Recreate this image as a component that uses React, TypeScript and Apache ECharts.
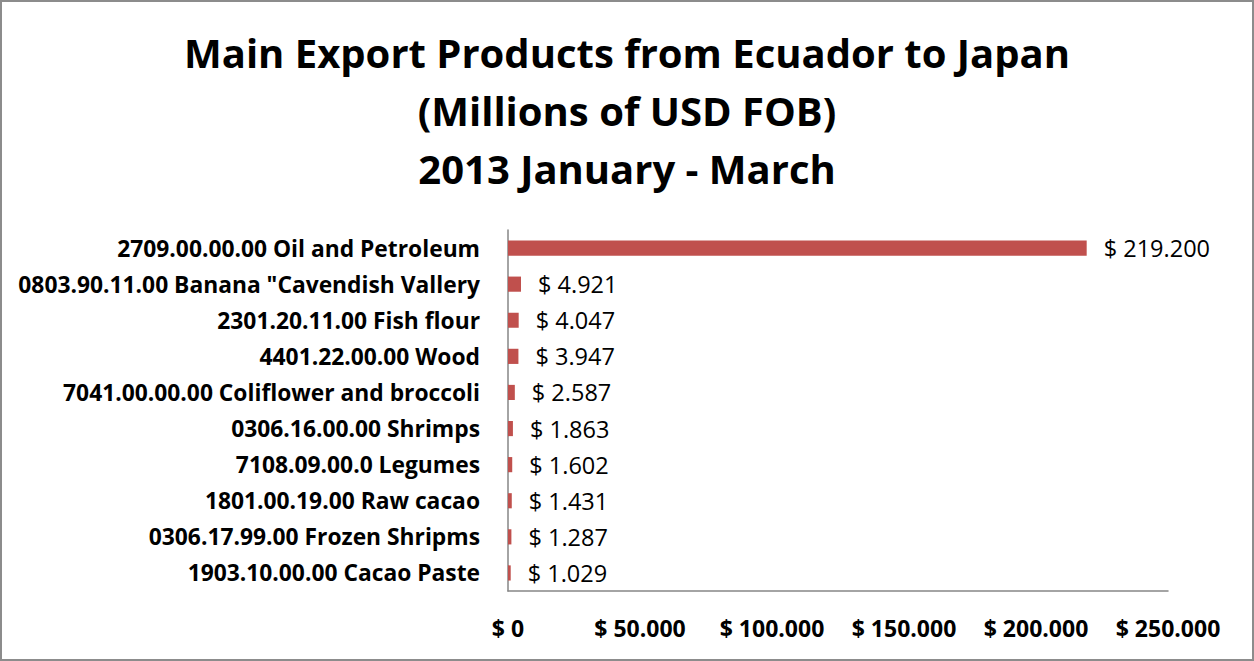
import React, { useEffect, useRef } from "react";
import * as echarts from "echarts";

const categories = [
  "2709.00.00.00 Oil and Petroleum",
  "0803.90.11.00 Banana \"Cavendish Vallery",
  "2301.20.11.00 Fish flour",
  "4401.22.00.00 Wood",
  "7041.00.00.00 Coliflower and broccoli",
  "0306.16.00.00 Shrimps",
  "7108.09.00.0 Legumes",
  "1801.00.19.00 Raw cacao",
  "0306.17.99.00 Frozen Shripms",
  "1903.10.00.00 Cacao Paste",
];
const values = [219200, 4921, 4047, 3947, 2587, 1863, 1602, 1431, 1287, 1029];
const titleLines = [
  "Main Export Products from Ecuador to Japan",
  "(Millions of USD FOB)",
  "2013 January - March",
];

const fmt = (v: number) => {
  const s = Math.round(v).toString();
  if (v >= 1000) {
    const th = Math.floor(v / 1000);
    const rest = (Math.round(v) % 1000).toString().padStart(3, "0");
    return `$ ${th}.${rest}`;
  }
  return `$ ${s}`;
};

const FONT = "'Open Sans', sans-serif";

export default function App() {
  const ref = useRef<HTMLDivElement>(null);
  useEffect(() => {
    if (!ref.current) return;
    const chart = echarts.init(ref.current, undefined, { renderer: "svg" });
    chart.setOption({
      animation: false,
      title: {
        text: titleLines.join("\n"),
        left: "center",
        top: 16,
        textStyle: {
          fontFamily: FONT,
          fontWeight: "bold",
          fontSize: 40,
          lineHeight: 58,
          color: "#000",
        },
      },
      grid: { left: 506, right: 84, top: 228, bottom: 68, containLabel: false },
      xAxis: {
        type: "value",
        min: 0,
        max: 250000,
        interval: 50000,
        splitLine: { show: false },
        axisLine: { show: true, lineStyle: { color: "#868686", width: 1.5 } },
        axisTick: { show: false },
        axisLabel: {
          formatter: (v: number) => fmt(v),
          fontFamily: FONT,
          fontWeight: "bold",
          fontSize: 23,
          color: "#000",
          margin: 25,
        },
      },
      yAxis: {
        type: "category",
        inverse: true,
        data: categories,
        axisLine: { show: true, lineStyle: { color: "#868686", width: 1.5 } },
        axisTick: { show: false },
        axisLabel: {
          fontFamily: FONT,
          fontWeight: "bold",
          fontSize: 22.8,
          color: "#000",
          margin: 28,
        },
      },
      series: [
        {
          type: "bar",
          data: values,
          barWidth: "42%",
          itemStyle: { color: "#C0504D" },
          label: {
            show: true,
            position: "right",
            distance: 17,
            formatter: (p: any) => fmt(p.value),
            fontFamily: FONT,
            fontSize: 23.5,
            color: "#000",
          },
        },
      ],
    });
    return () => chart.dispose();
  }, []);
  return (
    <div
      style={{
        position: "fixed",
        left: 0,
        top: 0,
        width: 1254,
        height: 661,
        boxSizing: "border-box",
        border: "2px solid #8c8c8c",
        background: "#fff",
      }}
    >
      <div ref={ref} style={{ width: 1250, height: 657 }} />
    </div>
  );
}
